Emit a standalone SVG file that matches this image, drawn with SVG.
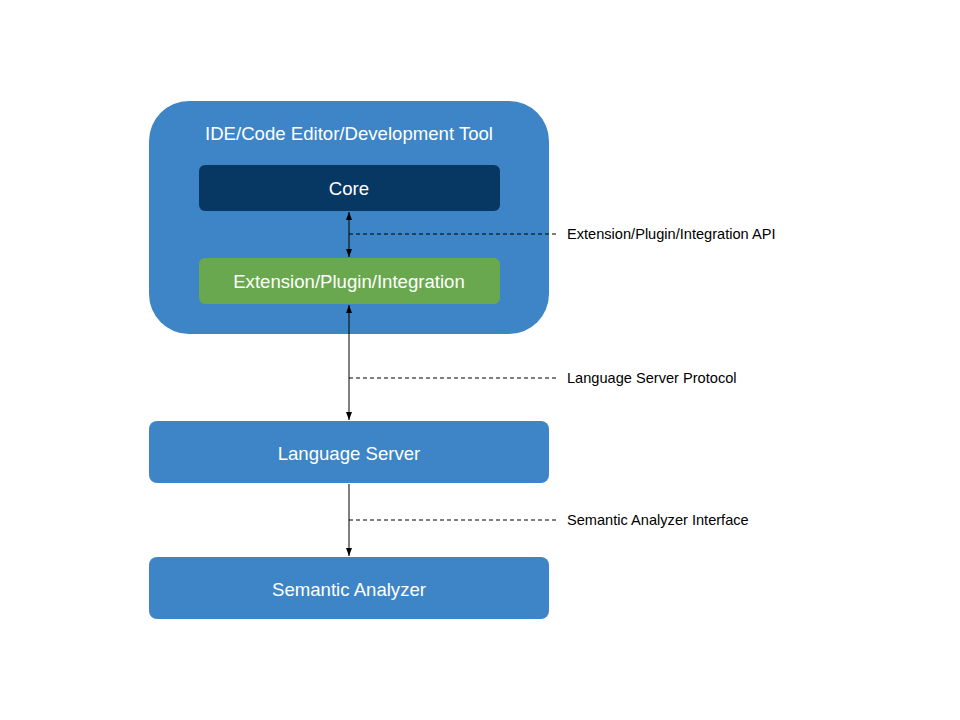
<svg xmlns="http://www.w3.org/2000/svg" width="960" height="720" viewBox="0 0 960 720">
<style>
.blue{fill:#3d85c6}
.wt{fill:#ffffff;font-family:"Liberation Sans",Arial,sans-serif;font-size:18.6px;text-anchor:middle}
.lbl{fill:#000000;font-family:"Liberation Sans",Arial,sans-serif;font-size:14.6px}
.ln{stroke:#000000;stroke-width:1;fill:none}
.dash{stroke:#000000;stroke-width:1;stroke-dasharray:4,3;fill:none}
</style>
<defs>
<marker id="ah" viewBox="0 0 8 8" refX="8" refY="4" markerWidth="8" markerHeight="8" markerUnits="userSpaceOnUse" orient="auto-start-reverse">
<path d="M0,1 L8,4 L0,7 z" fill="#000000"/>
</marker>
</defs>
<rect width="960" height="720" fill="#ffffff"/>
<g id="ide">
<rect class="blue" x="149" y="101" width="400" height="233" rx="40" ry="40"/>
<text class="wt" x="349" y="140">IDE/Code Editor/Development Tool</text>
</g>
<g id="core">
<rect x="199" y="165" width="301" height="46" rx="6" fill="#073763"/>
<text class="wt" x="349" y="195">Core</text>
</g>
<g id="ext">
<rect x="199" y="258" width="301" height="46" rx="6" fill="#6aa84f"/>
<text class="wt" x="349" y="288">Extension/Plugin/Integration</text>
</g>
<g id="ls">
<rect class="blue" x="149" y="421" width="400" height="62" rx="8"/>
<text class="wt" x="349" y="460">Language Server</text>
</g>
<g id="sa">
<rect class="blue" x="149" y="557" width="400" height="62" rx="8"/>
<text class="wt" x="349" y="596">Semantic Analyzer</text>
</g>
<g id="connectors">
<line class="ln" x1="349" y1="212" x2="349" y2="257" marker-start="url(#ah)" marker-end="url(#ah)"/>
<line class="dash" x1="349" y1="234" x2="556" y2="234"/>
<line class="ln" x1="349" y1="305" x2="349" y2="420" marker-start="url(#ah)" marker-end="url(#ah)"/>
<line class="dash" x1="349" y1="378" x2="556" y2="378"/>
<line class="ln" x1="349" y1="484" x2="349" y2="556" marker-end="url(#ah)"/>
<line class="dash" x1="349" y1="520" x2="556" y2="520"/>
</g>
<g id="labels">
<text class="lbl" x="567" y="239">Extension/Plugin/Integration API</text>
<text class="lbl" x="567" y="383">Language Server Protocol</text>
<text class="lbl" x="567" y="525">Semantic Analyzer Interface</text>
</g>
</svg>
